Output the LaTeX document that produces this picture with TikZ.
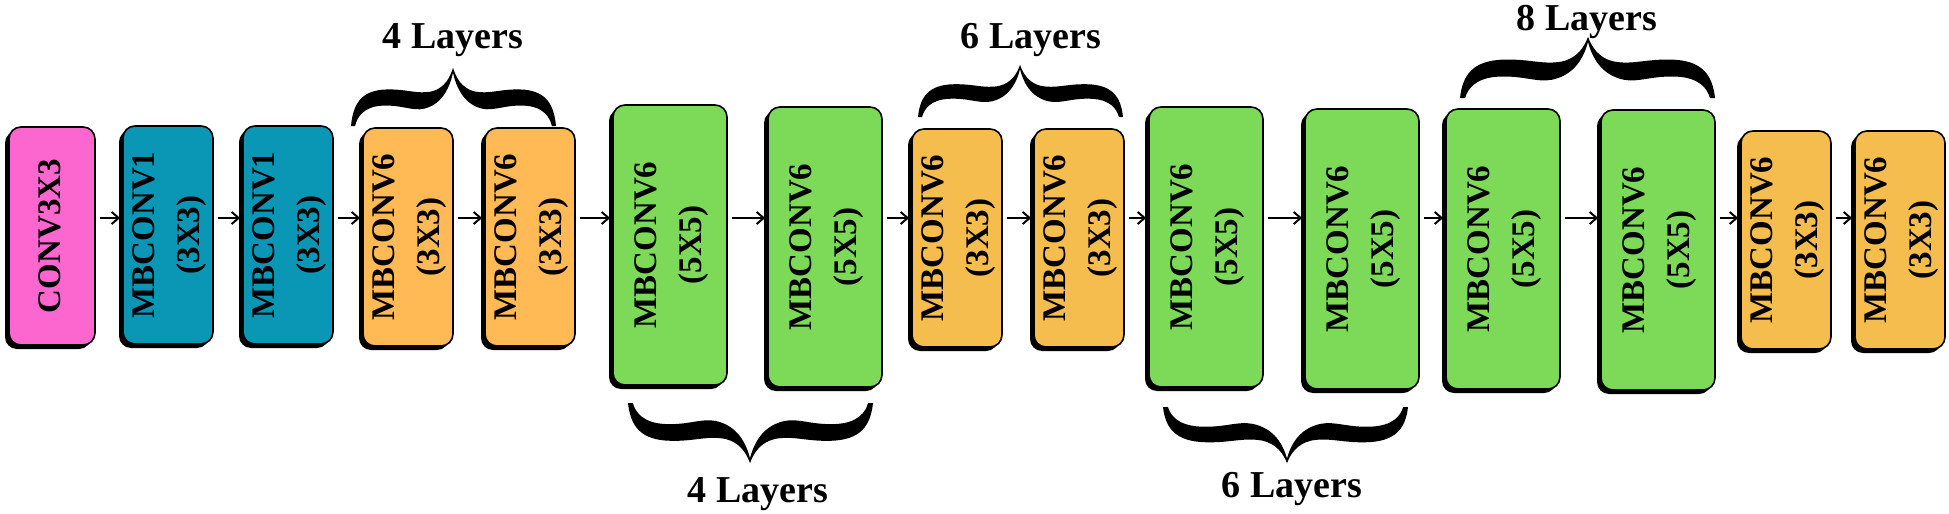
\documentclass[tikz,border=0pt]{standalone}
\usepackage{graphicx}
\usepackage{fontspec}
\setmainfont{Liberation Serif}
\usetikzlibrary{arrows.meta,shadows}
\definecolor{cpink}{HTML}{FB66CF}
\definecolor{cteal}{HTML}{0A97B5}
\definecolor{corangeA}{HTML}{FFB955}
\definecolor{corangeB}{HTML}{F5BC4E}
\definecolor{cgreen}{HTML}{7DDA58}
\tikzset{
  blk/.style={draw=black, line width=0.8pt, rounded corners=6pt, inner sep=0pt,
    drop shadow={shadow xshift=-2pt, shadow yshift=-2pt, fill=black, opacity=1},
    font=\bfseries\fontsize{16.5}{22.5}\selectfont},
  sbox/.style={blk, minimum width=43pt, minimum height=109pt},
  gbox/.style={blk, minimum width=57pt, minimum height=140pt, fill=cgreen},
  lbl/.style={font=\bfseries\fontsize{19}{22}\selectfont, anchor=base, inner sep=0pt},
  arr/.style={line width=1pt, -{Straight Barb[length=3.5pt,width=6pt]}, shorten <=2pt, shorten >=1pt},
}
\newcommand{\vlab}[1]{\rotatebox{90}{\begin{tabular}{@{}c@{}}#1\end{tabular}}}
\newcommand{\bracehalf}[1]{\begin{scope}[#1]
  \fill (0,0) .. controls (0.02,0.38) and (0.1,0.62) .. (0.35,0.63)
    .. controls (0.55,0.64) and (0.65,0.54) .. (0.8,0.6)
    .. controls (0.92,0.66) and (0.97,0.84) .. (1,1)
    -- (1,0.92) .. controls (0.97,0.68) and (0.9,0.38) .. (0.72,0.3)
    .. controls (0.6,0.25) and (0.5,0.37) .. (0.3,0.35)
    .. controls (0.12,0.33) and (0.06,0.15) .. (0.04,0) -- cycle;
\end{scope}}
\newcommand{\layerbrace}[5]{%
  \bracehalf{shift={(#1,#4)}, xscale={#2-#1}, yscale={#5-#4}}%
  \bracehalf{shift={(#3,#4)}, xscale={#2-#3}, yscale={#5-#4}}}
\begin{document}
\begin{tikzpicture}[x=0.5pt, y=-0.5pt]
\fill[white] (0,0) rectangle (1949,514);
\useasboundingbox (0,0) rectangle (1949,514);
\coordinate (ay) at (0,218);
% boxes
\node[sbox, fill=cpink] (b1) at (52,236) {\vlab{CONV3X3}};
\node[sbox, fill=cteal] (b2) at (168,235) {\vlab{MBCONV1\\(3X3)}};
\node[sbox, fill=cteal] (b3) at (288,235) {\vlab{MBCONV1\\(3X3)}};
\node[sbox, fill=corangeA] (b4) at (408,237) {\vlab{MBCONV6\\(3X3)}};
\node[sbox, fill=corangeA] (b5) at (530,237) {\vlab{MBCONV6\\(3X3)}};
\node[gbox] (b6) at (670,245) {\vlab{MBCONV6\\(5X5)}};
\node[gbox] (b7) at (825,247) {\vlab{MBCONV6\\(5X5)}};
\node[sbox, fill=corangeB] (b8) at (957,238) {\vlab{MBCONV6\\(3X3)}};
\node[sbox, fill=corangeB] (b9) at (1079,238) {\vlab{MBCONV6\\(3X3)}};
\node[gbox] (b10) at (1206,247) {\vlab{MBCONV6\\(5X5)}};
\node[gbox] (b11) at (1362,249) {\vlab{MBCONV6\\(5X5)}};
\node[gbox] (b12) at (1503,249) {\vlab{MBCONV6\\(5X5)}};
\node[gbox] (b13) at (1658,250) {\vlab{MBCONV6\\(5X5)}};
\node[sbox, fill=corangeB] (b14) at (1786,240) {\vlab{MBCONV6\\(3X3)}};
\node[sbox, fill=corangeB] (b15) at (1900,240) {\vlab{MBCONV6\\(3X3)}};
% arrows
\foreach \a/\b in {b1/b2,b2/b3,b3/b4,b4/b5,b5/b6,b6/b7,b7/b8,b8/b9,b9/b10,b10/b11,b11/b12,b12/b13,b13/b14,b14/b15}
  \draw[arr] (\a.east |- ay) -- (\b.west |- ay);
% braces
\layerbrace{351}{453}{556}{126}{68}
\layerbrace{918}{1020}{1123}{117}{65}
\layerbrace{1460}{1588}{1715}{98}{37}
\layerbrace{628}{750}{873}{403}{463}
\layerbrace{1163}{1287}{1408}{407}{463}
% labels
\node[lbl] (t1) at (453,48) {4 Layers};
\node[lbl] (t2) at (1031,48) {6 Layers};
\node[lbl] (t3) at (1587,30) {8 Layers};
\node[lbl] (t4) at (758,502) {4 Layers};
\node[lbl] (t5) at (1292,497) {6 Layers};
\end{tikzpicture}
\end{document}
